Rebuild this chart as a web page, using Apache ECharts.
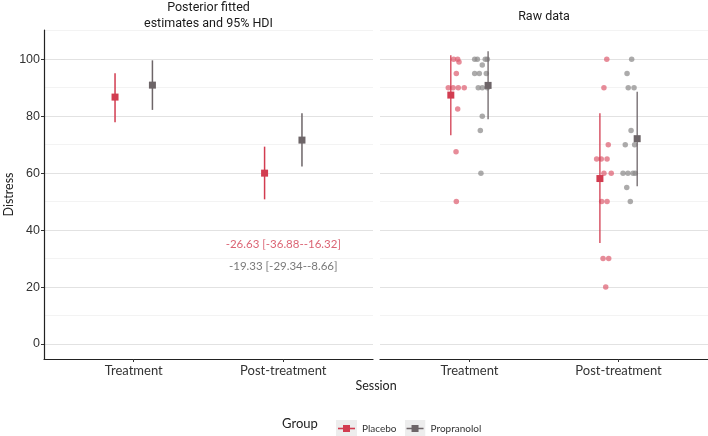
<!DOCTYPE html>
<html><head><meta charset="utf-8">
<script src="https://cdn.jsdelivr.net/npm/echarts@6/dist/echarts.min.js"></script>
<style>html,body{margin:0;padding:0;background:#fff}#c{width:708px;height:436px}</style>
</head><body><div id="c"></div>
<script>
// ---------- data ----------
const sessions = ['Treatment', 'Post-treatment'];
const sessionPos = [1, 2];
const groups = ['Placebo', 'Propranolol'];
const dodge = [-0.125, 0.125];
const yTicks = [0, 20, 40, 60, 80, 100];

// posterior fitted estimates and 95% HDI
const fitPlaceboMean = [86.7, 60.0];
const fitPlaceboLow  = [77.9, 50.8];
const fitPlaceboHigh = [95.1, 69.3];
const fitPropMean = [90.9, 71.6];
const fitPropLow  = [82.2, 62.3];
const fitPropHigh = [99.6, 81.0];

// contrast annotations (post - treatment)
const contrastLabels = ['-26.63 [-36.88--16.32]', '-19.33 [-29.34--8.66]'];
const contrastY = [35.0, 27.2];

// raw data: values and horizontal jitter (relative to session position)
const rawPlaceboTreatY = [100, 100, 99, 95, 90, 90, 90, 90, 82.5, 67.5, 50];
const rawPlaceboTreatJ = [-0.106, -0.079, -0.070, -0.088, -0.142, -0.110, -0.075, -0.035, -0.079, -0.090, -0.088];
const rawPropTreatY = [100, 100, 100, 100, 98, 95, 95, 95, 90, 90, 90, 80, 75, 60];
const rawPropTreatJ = [0.035, 0.053, 0.106, 0.120, 0.086, 0.035, 0.066, 0.113, 0.059, 0.086, 0.120, 0.086, 0.073, 0.077];
const rawPlaceboPostY = [100, 90, 70, 65, 65, 65, 60, 60, 50, 50, 30, 30, 20];
const rawPlaceboPostJ = [-0.079, -0.098, -0.069, -0.147, -0.116, -0.077, -0.098, -0.049, -0.113, -0.077, -0.104, -0.066, -0.086];
const rawPropPostY = [100, 95, 90, 90, 75, 70, 70, 60, 60, 60, 60, 55, 50];
const rawPropPostJ = [0.088, 0.057, 0.065, 0.104, 0.084, 0.045, 0.108, 0.030, 0.063, 0.097, 0.112, 0.055, 0.079];

// raw data summaries (mean and spread)
const rawPlaceboMean = [87.4, 58.1];
const rawPlaceboLow  = [73.3, 35.5];
const rawPlaceboHigh = [101.4, 81.0];
const rawPropMean = [90.8, 72.1];
const rawPropLow  = [78.9, 55.4];
const rawPropHigh = [102.8, 88.6];

// ---------- style ----------
const RED = '#d23c50';
const GREY = '#6d6568';
const RED_PT = 'rgba(222,96,113,0.72)';
const GREY_PT = 'rgba(140,138,139,0.72)';
const FONT = 'Lato';

function keyIcon(color) {
  const svg = "<svg xmlns='http://www.w3.org/2000/svg' width='21' height='17'>" +
    "<rect width='21' height='17' fill='#ededed'/>" +
    "<line x1='2' y1='8.5' x2='19' y2='8.5' stroke='" + color + "' stroke-width='1.6'/>" +
    "<rect x='7' y='5' width='7' height='7' fill='" + color + "'/></svg>";
  return 'image://data:image/svg+xml;charset=utf-8,' + encodeURIComponent(svg);
}

function errBar(name, gi, xs, lo, hi, color, width) {
  return {
    type: 'custom', name: name, xAxisIndex: gi, yAxisIndex: gi, z: 3,
    data: xs.map((x, i) => [x, lo[i], hi[i]]),
    encode: { x: 0, y: [1, 2] },
    renderItem: function (params, api) {
      const p1 = api.coord([api.value(0), api.value(1)]);
      const p2 = api.coord([api.value(0), api.value(2)]);
      return { type: 'line', shape: { x1: p1[0], y1: p1[1], x2: p2[0], y2: p2[1] },
        style: { stroke: color, lineWidth: width } };
    }
  };
}
function points(name, gi, xs, ys, color, size, symbol, z) {
  return { type: 'scatter', name: name, xAxisIndex: gi, yAxisIndex: gi, symbol: symbol,
    symbolSize: size, z: z, itemStyle: { color: color, opacity: 1 },
    data: xs.map((x, i) => [x, ys[i]]) };
}

const xPl = sessionPos.map(p => p + dodge[0]);
const xPr = sessionPos.map(p => p + dodge[1]);
const rawPlX = rawPlaceboTreatJ.map(j => sessionPos[0] + j).concat(rawPlaceboPostJ.map(j => sessionPos[1] + j));
const rawPlY = rawPlaceboTreatY.concat(rawPlaceboPostY);
const rawPrX = rawPropTreatJ.map(j => sessionPos[0] + j).concat(rawPropPostJ.map(j => sessionPos[1] + j));
const rawPrY = rawPropTreatY.concat(rawPropPostY);

function xAxisCfg(gi) {
  return {
    type: 'value', gridIndex: gi, min: 0.4, max: 2.6, splitNumber: 2,
    axisLine: { show: true, onZero: false, lineStyle: { color: '#222', width: 1.2 } },
    axisTick: { show: true, length: 3, customValues: sessionPos, lineStyle: { color: '#333' } },
    axisLabel: { customValues: sessionPos, formatter: v => sessions[Math.round(v) - 1] || '',
      fontSize: 13, color: '#333', margin: 5, fontFamily: FONT },
    splitLine: { show: false }
  };
}
function yAxisCfg(gi) {
  const first = gi === 0;
  return {
    type: 'value', gridIndex: gi, min: -5.25, max: 110.25, splitNumber: 5,
    axisLine: { show: first, lineStyle: { color: '#222', width: 1.2 } },
    axisTick: { show: first, length: 3, customValues: yTicks, lineStyle: { color: '#333' } },
    axisLabel: { show: first, customValues: yTicks, fontSize: 12.5, color: '#333', margin: 4,
      fontFamily: 'Liberation Sans' },
    splitLine: { show: true, lineStyle: { color: '#e2e2e2', width: 1 } },
    minorTick: { show: false, splitNumber: 2 },
    minorSplitLine: { show: true, lineStyle: { color: '#f3f3f3', width: 1 } },
    name: first ? 'Distress' : '', nameLocation: 'middle', nameGap: 27, nameRotate: 90,
    nameTextStyle: { fontSize: 12.5, color: '#222', fontFamily: FONT }
  };
}

const chart = echarts.init(document.getElementById('c'), null, { renderer: 'canvas' });
chart.setOption({
  animation: false,
  backgroundColor: '#fff',
  grid: [
    { left: 44, right: 335, top: 30, bottom: 77 },
    { left: 380, right: 0, top: 30, bottom: 77 }
  ],
  xAxis: [xAxisCfg(0), xAxisCfg(1)],
  yAxis: [yAxisCfg(0), yAxisCfg(1)],
  legend: {
    left: 331, top: 415, itemWidth: 21, itemHeight: 17, itemGap: 8,
    textStyle: { fontSize: 10, color: '#333', fontFamily: FONT },
    data: [{ name: groups[0], icon: keyIcon(RED) }, { name: groups[1], icon: keyIcon(GREY) }]
  },
  graphic: [
    { type: 'text', x: 208.5, y: 16, style: { text: 'Posterior fitted\nestimates and 95% HDI',
      textAlign: 'center', textVerticalAlign: 'middle', fontSize: 12.5, lineHeight: 16,
      fill: '#1a1a1a', fontFamily: 'Roboto' } },
    { type: 'text', x: 544, y: 17, style: { text: 'Raw data', textAlign: 'center',
      textVerticalAlign: 'middle', fontSize: 12.5, fill: '#1a1a1a', fontFamily: 'Roboto' } },
    { type: 'text', x: 376, y: 386, style: { text: 'Session', textAlign: 'center',
      textVerticalAlign: 'middle', fontSize: 12.5, fill: '#222', fontFamily: FONT } },
    { type: 'text', x: 300, y: 424, style: { text: 'Group', textAlign: 'center',
      textVerticalAlign: 'middle', fontSize: 13, fill: '#222', fontFamily: FONT } }
  ],
  series: [
    // left panel: posterior estimates
    errBar(groups[0], 0, xPl, fitPlaceboLow, fitPlaceboHigh, RED, 1.5),
    errBar(groups[1], 0, xPr, fitPropLow, fitPropHigh, GREY, 1.5),
    points(groups[0], 0, xPl, fitPlaceboMean, RED, 7, 'rect', 4),
    points(groups[1], 0, xPr, fitPropMean, GREY, 7, 'rect', 4),
    {
      type: 'scatter', name: 'contrast', xAxisIndex: 0, yAxisIndex: 0, symbolSize: 0, z: 5,
      data: contrastLabels.map((t, i) => ({ value: [sessionPos[1], contrastY[i]], label: {
        show: true, position: 'inside', formatter: t, fontSize: 11.5, fontFamily: FONT,
        color: i === 0 ? RED : '#555' } }))
    },
    // right panel: raw points
    points(groups[0], 1, rawPlX, rawPlY, RED_PT, 5.5, 'circle', 2),
    points(groups[1], 1, rawPrX, rawPrY, GREY_PT, 5.5, 'circle', 2),
    errBar(groups[0], 1, xPl, rawPlaceboLow, rawPlaceboHigh, RED, 1.3),
    errBar(groups[1], 1, xPr, rawPropLow, rawPropHigh, GREY, 1.3),
    points(groups[0], 1, xPl, rawPlaceboMean, RED, 7, 'rect', 4),
    points(groups[1], 1, xPr, rawPropMean, GREY, 7, 'rect', 4)
  ]
});
</script>
</body></html>
